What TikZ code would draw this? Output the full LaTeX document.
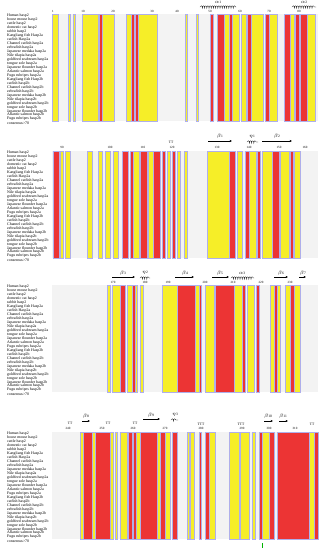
\documentclass[tikz,border=0pt]{standalone}
\usepackage{fontspec}
\setmainfont{Liberation Serif}
\usetikzlibrary{arrows.meta,decorations.pathmorphing}

\definecolor{espR}{RGB}{236,52,52}
\definecolor{espY}{RGB}{246,238,40}
\definecolor{espB}{RGB}{175,175,235}
\definecolor{espG}{RGB}{243,243,243}

\newcommand{\seqnames}{Human hasp2, house mouse hasp2, cattle hasp2, domestic cat hasp2, rabbit hasp2,
  Kangliang fish Hasp2a, catfish Hasp2a, Channel catfish hasp2a, zebrafish hasp2a, Japanese medaka hasp2a,
  Nile tilapia hasp2a, goldfeed seabream hasp2a, tongue sole hasp2a, Japanese flounder hasp2a,
  Atlantic salmon hasp2a, Fugu rubripes hasp2a, Kangliang fish Hasp2b, catfish hasp2b,
  Channel catfish hasp2b, zebrafish hasp2b, Japanese medaka hasp2b, Nile tilapia hasp2b,
  goldfeed seabream hasp2b, tongue sole hasp2b, Japanese flounder hasp2b, Atlantic salmon hasp2b,
  Fugu rubripes hasp2b, consensus>70}

\tikzset{
  seqname/.style={anchor=west, font=\fontsize{3.9}{4}\selectfont, inner sep=0pt},
  resnum/.style={font=\fontsize{3.2}{3.2}\selectfont, inner sep=0pt},
  sslabel/.style={font=\fontsize{3.6}{4}\selectfont, inner sep=0pt},
  strand/.style={-{Latex[length=2.2pt,width=2.4pt]}, line width=0.7pt},
  helix/.style={decorate, decoration={coil, aspect=0.6, segment length=2.2pt, amplitude=1.3pt}, line width=0.25pt},
  colbox/.style={draw=espB, line width=0.1pt},
}

\begin{document}
\begin{tikzpicture}[x=1pt, y=-1pt]
    \useasboundingbox (0,0) rectangle (324,550);
    \fill[white] (0,0) rectangle (324,550);

    % Sequence names and faint residue area, one set per block
    \foreach \b/\yt in {1/16, 2/153, 3/287, 4/434} {
        \fill[espG] (52,\yt-2) rectangle (318,\yt+105);
        \foreach \nm [count=\i from 0] in \seqnames {
            \node[seqname] (name\b-\i) at (7, {\yt+\i*3.96}) {\nm};
        }
    }

    % --- Block 1: residues 1-85 ---
    \foreach \xa/\xb/\c in {52/58/espY, 68/70/espY, 73/75/espY, 82/98/espY, 99/102/espR,
            102/114/espY, 126/131/espY, 131/134/espR, 134/135/espY, 135/138/espR, 138/157/espY,
            185/187/espY, 196/198/espY, 210/213/espR, 217/224/espR, 224/229/espY, 229/232/espR,
            232/239/espY, 241/246/espY, 247/251/espR, 251/263/espY, 265/269/espR, 269/277/espY,
            284/290/espR, 290/294/espY, 295/299/espR, 300/307/espR, 307/315/espY} {
        \path[colbox, fill=\c] (\xa,14) rectangle (\xb,121);
    }
    \foreach \n/\x in {1/53, 10/83, 20/113, 30/152, 40/177, 50/210, 60/240, 70/269, 80/299} {
        \node[resnum] (num1-\n) at (\x,11.5) {\n};
    }
    % helices
    \draw[helix] (200,7) -- (236,7);
    \node[sslabel] (ssA1) at (218,2.5) {$\alpha$1};
    \draw[helix] (292,7) -- (316,7);
    \node[sslabel] (ssA2) at (304,2.5) {$\alpha$2};

    % --- Block 2: residues 86-165 ---
    \foreach \xa/\xb/\c in {53/59/espR, 60/63/espY, 65/70/espY, 87/92/espY, 98/102/espY,
            105/110/espY, 113/118/espY, 122/128/espR, 130/133/espR, 133/139/espY, 140/147/espR,
            148/153/espY, 153/160/espR, 162/165/espR, 167/170/espY, 172/175/espR, 177/180/espY,
            184/187/espY, 207/229/espY, 229/235/espR, 237/242/espY, 245/249/espR, 249/256/espY,
            257/260/espR, 262/272/espY, 272/279/espR, 280/289/espY, 290/293/espR, 294/300/espY} {
        \path[colbox, fill=\c] (\xa,151) rectangle (\xb,258);
    }
    \foreach \n/\x in {90/62, 100/110, 110/143, 120/172, 130/217, 140/249, 150/279, 160/305} {
        \node[resnum] (num2-\n) at (\x,147.5) {\n};
    }
    \node[sslabel] (tt2a) at (171,142) {TT};
    \draw[strand] (208,141) -- (232,141);
    \node[sslabel] (ssB1) at (220,136.5) {$\beta$1};
    \draw[helix] (247,142) -- (258,142);
    \node[sslabel] (ssE1) at (252,137) {$\eta$1};
    \draw[strand] (262,141) -- (292,141);
    \node[sslabel] (ssB2) at (277,136.5) {$\beta$2};

    % --- Block 3: residues 166-235 ---
    \foreach \xa/\xb/\c in {107/110/espY, 112/120/espY, 120/125/espR, 127/132/espY,
            132/135/espR, 135/137/espY, 140/143/espY, 162/177/espY, 177/195/espR, 195/199/espY,
            199/201/espR, 205/214/espY, 215/234/espR, 234/242/espY, 242/245/espR, 247/254/espY,
            256/259/espR, 270/274/espY, 274/277/espR, 277/280/espY, 285/290/espY, 290/294/espR,
            294/300/espY} {
        \path[colbox, fill=\c] (\xa,285) rectangle (\xb,392);
    }
    \foreach \n/\x in {170/113, 180/145, 190/168, 200/205, 210/233, 220/261, 230/290} {
        \node[resnum] (num3-\n) at (\x,282) {\n};
    }
    \draw[strand] (112,277) -- (135,277);
    \node[sslabel] (ssB3) at (123,273) {$\beta$3};
    \draw[helix] (140,278) -- (150,278);
    \node[sslabel] (ssE2) at (145,273) {$\eta$2};
    \draw[strand] (175,277) -- (194,277);
    \node[sslabel] (ssB4) at (185,273) {$\beta$4};
    \draw[strand] (212,277) -- (229,277);
    \node[sslabel] (ssB5) at (220,273) {$\beta$5};
    \draw[helix] (231,278) -- (254,278);
    \node[sslabel] (ssA3) at (242,273) {$\alpha$3};
    \draw[strand] (274,277) -- (288,277);
    \node[sslabel] (ssB6) at (281,273) {$\beta$6};
    \draw[strand] (299,277) -- (306,277);
    \node[sslabel] (ssB7) at (303,273) {$\beta$7};

    % --- Block 4: residues 236-316 ---
    \foreach \xa/\xb/\c in {80/83/espY, 83/92/espR, 92/95/espY, 95/110/espR, 110/113/espY,
            115/117/espY, 120/127/espY, 128/132/espR, 133/136/espR, 136/140/espY, 140/157/espR,
            157/160/espY, 160/165/espR, 165/170/espY, 172/177/espR, 187/189/espY, 190/194/espY,
            199/201/espR, 205/209/espR, 209/215/espY, 229/239/espY, 240/249/espY, 252/255/espY,
            259/262/espR, 262/269/espY, 269/274/espR, 277/309/espR, 309/314/espY, 314/318/espR} {
        \path[colbox, fill=\c] (\xa,432) rectangle (\xb,539);
    }
    \foreach \n/\x in {240/68, 250/102, 260/133, 270/165, 280/201, 290/242, 300/269, 310/295} {
        \node[resnum] (num4-\n) at (\x,428.5) {\n};
    }
    \node[sslabel] (tt4a) at (70,423.5) {TT};
    \draw[strand] (82,421) -- (90,421);
    \node[sslabel] (ssB8) at (86,416.5) {$\beta$8};
    \node[sslabel] (tt4b) at (108,423.5) {TT};
    \node[sslabel] (tt4c) at (135,423.5) {TT};
    \draw[strand] (143,419) -- (160,419);
    \node[sslabel] (ssB9) at (151,415) {$\beta$9};
    \draw[helix] (171,420) -- (178,420);
    \node[sslabel] (ssE3) at (175,415) {$\eta$3};
    \node[sslabel] (tt4d) at (201,424) {TTT};
    \node[sslabel] (tt4e) at (241,424) {TTT};
    \draw[strand] (264,421) -- (273,421);
    \node[sslabel] (ssB10) at (268,416.5) {$\beta$10};
    \draw[strand] (279,421) -- (288,421);
    \node[sslabel] (ssB11) at (283,416.5) {$\beta$11};
    \node[sslabel] (tt4f) at (312,424) {TT};

    % green mark under block 4
    \draw[green!70!black, line width=0.5pt] (262,543) -- (262,547.5);
\end{tikzpicture}
\end{document}
